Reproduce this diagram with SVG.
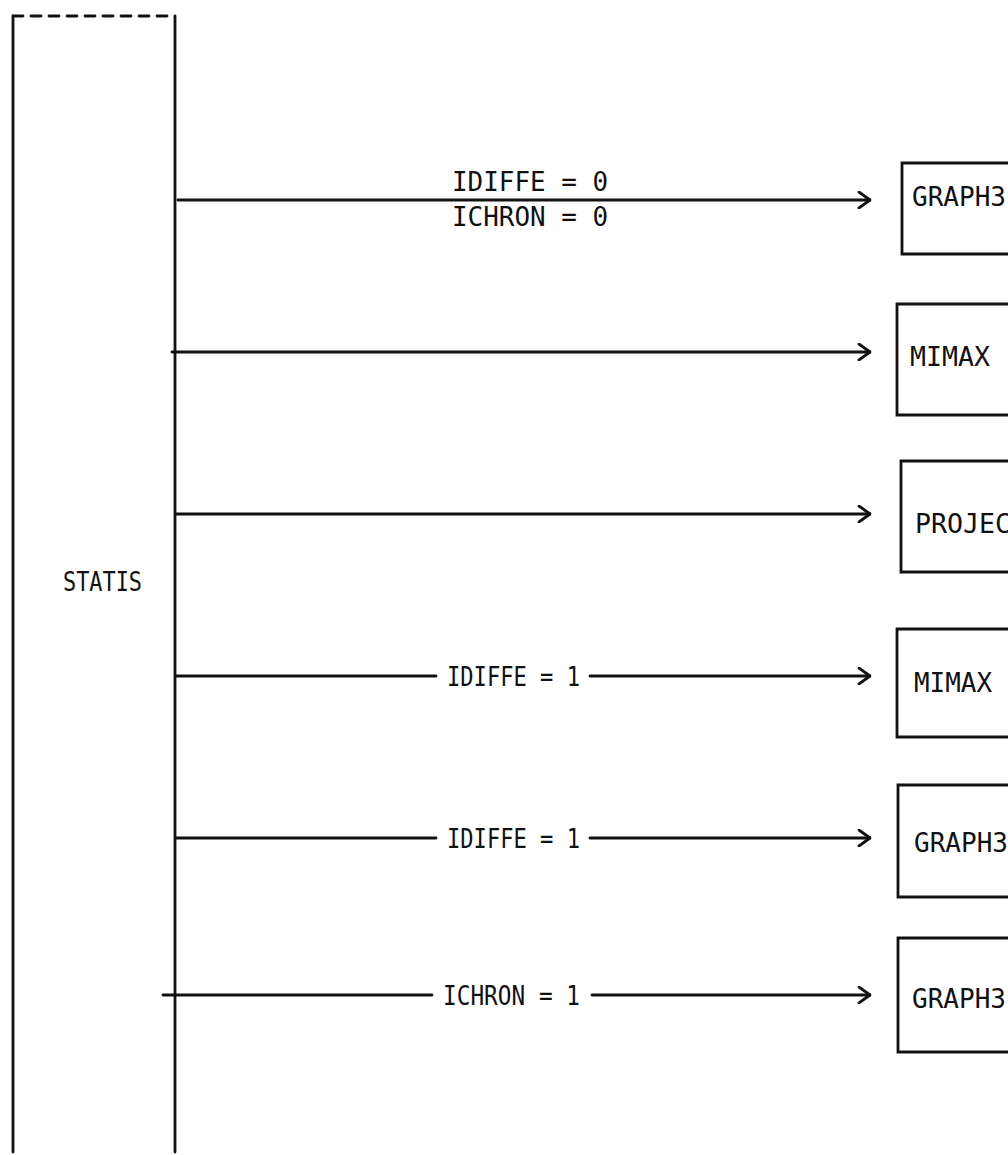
<svg xmlns="http://www.w3.org/2000/svg" width="1008" height="1155" viewBox="0 0 1008 1155">
<style>
.ln{stroke:#111;stroke-width:2.8;fill:none;stroke-linecap:round}
.bx{stroke:#111;stroke-width:2.8;fill:none}
.t{font-family:"DejaVu Sans Mono","Liberation Mono",monospace;font-size:27px;fill:#111}
</style>
<defs>
<marker id="ah" viewBox="0 0 14 18" refX="13" refY="9" markerWidth="14" markerHeight="18" markerUnits="userSpaceOnUse" orient="auto">
<path d="M2,1 L13,9 L2,17" fill="none" stroke="#111" stroke-width="2.8" stroke-linecap="round" stroke-linejoin="round"/>
</marker>
</defs>
<rect width="1008" height="1155" fill="#fff"/>
<g id="STATIS">
<line class="ln" x1="13" y1="16" x2="13" y2="1152"/>
<line class="ln" x1="175" y1="16" x2="175" y2="1152"/>
<line class="ln" x1="13" y1="16" x2="175" y2="16" stroke-dasharray="10,8"/>
<text class="t" x="63" y="591" textLength="79" lengthAdjust="spacingAndGlyphs">STATIS</text>
</g>
<g id="GRAPH3_1">
<path class="bx" d="M1010,163 H902 V254 H1010"/>
<text class="t" x="912" y="206" textLength="94" lengthAdjust="spacingAndGlyphs">GRAPH3</text>
</g>
<g id="MIMAX_1">
<path class="bx" d="M1010,304 H897 V415 H1010"/>
<text class="t" x="910" y="366" textLength="80" lengthAdjust="spacingAndGlyphs">MIMAX</text>
</g>
<g id="PROJEC">
<path class="bx" d="M1010,461 H901 V572 H1010"/>
<text class="t" x="915" y="533" textLength="96" lengthAdjust="spacingAndGlyphs">PROJEC</text>
</g>
<g id="MIMAX_2">
<path class="bx" d="M1010,629 H897 V737 H1010"/>
<text class="t" x="914" y="692" textLength="78" lengthAdjust="spacingAndGlyphs">MIMAX</text>
</g>
<g id="GRAPH3_2">
<path class="bx" d="M1010,785 H898 V897 H1010"/>
<text class="t" x="914" y="852" textLength="94" lengthAdjust="spacingAndGlyphs">GRAPH3</text>
</g>
<g id="GRAPH3_3">
<path class="bx" d="M1010,938 H898 V1052 H1010"/>
<text class="t" x="912" y="1008" textLength="94" lengthAdjust="spacingAndGlyphs">GRAPH3</text>
</g>
<g id="connectors">
<line class="ln" x1="178" y1="200" x2="870" y2="200" marker-end="url(#ah)"/>
<text class="t" x="452" y="191" textLength="156" lengthAdjust="spacingAndGlyphs">IDIFFE = 0</text>
<text class="t" x="452" y="226" textLength="156" lengthAdjust="spacingAndGlyphs">ICHRON = 0</text>
<line class="ln" x1="172" y1="352" x2="870" y2="352" marker-end="url(#ah)"/>
<line class="ln" x1="176" y1="514" x2="870" y2="514" marker-end="url(#ah)"/>
<line class="ln" x1="176" y1="676" x2="436" y2="676"/>
<text class="t" x="447" y="686" textLength="133" lengthAdjust="spacingAndGlyphs">IDIFFE = 1</text>
<line class="ln" x1="590" y1="676" x2="870" y2="676" marker-end="url(#ah)"/>
<line class="ln" x1="176" y1="838" x2="436" y2="838"/>
<text class="t" x="447" y="848" textLength="133" lengthAdjust="spacingAndGlyphs">IDIFFE = 1</text>
<line class="ln" x1="590" y1="838" x2="870" y2="838" marker-end="url(#ah)"/>
<line class="ln" x1="163" y1="995" x2="432" y2="995"/>
<text class="t" x="443" y="1005" textLength="137" lengthAdjust="spacingAndGlyphs">ICHRON = 1</text>
<line class="ln" x1="592" y1="995" x2="870" y2="995" marker-end="url(#ah)"/>
</g>
</svg>
